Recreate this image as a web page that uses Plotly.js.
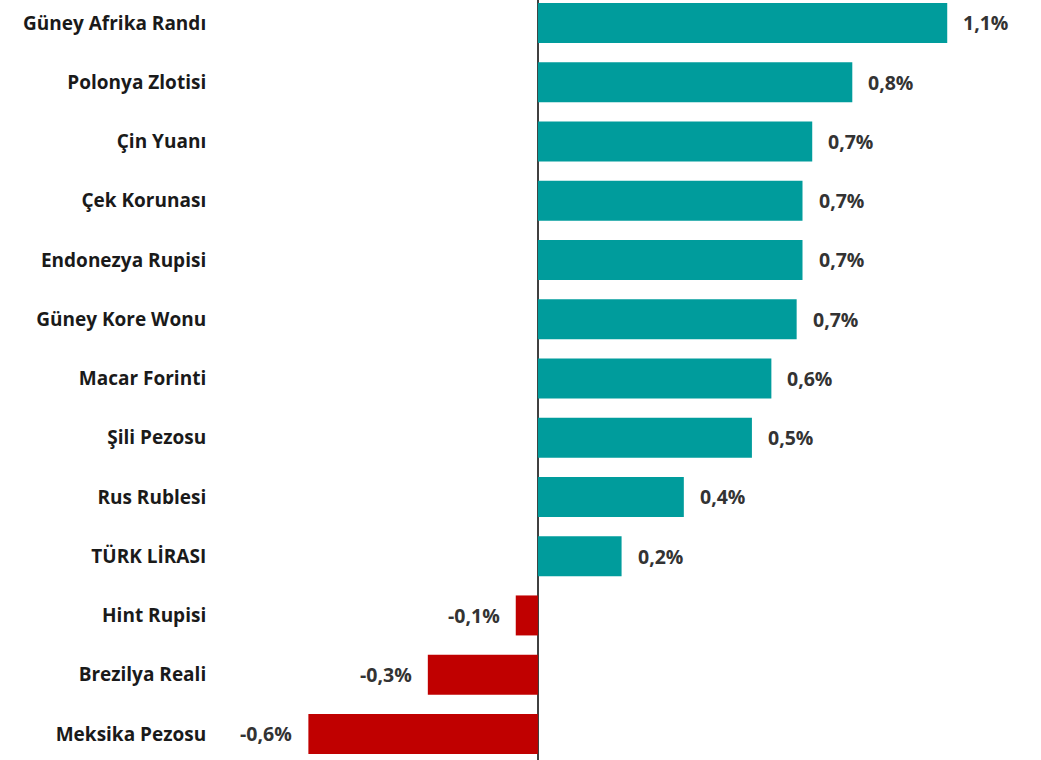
<!DOCTYPE html>
<html>
<head>
<meta charset="utf-8">
<script src="https://cdn.plot.ly/plotly-3.0.1.min.js"></script>
<style>html,body{margin:0;padding:0;background:#fff;}#chart{width:1041px;height:760px;}</style>
</head>
<body>
<div id="chart"></div>
<script>
const categories = ["Güney Afrika Randı","Polonya Zlotisi","Çin Yuanı","Çek Korunası","Endonezya Rupisi","Güney Kore Wonu","Macar Forinti","Şili Pezosu","Rus Rublesi","TÜRK LİRASI","Hint Rupisi","Brezilya Reali","Meksika Pezosu"];
const values = [1.052, 0.808, 0.705, 0.68, 0.68, 0.665, 0.60, 0.55, 0.375, 0.215, -0.057, -0.283, -0.59];
const labels = ["1,1%","0,8%","0,7%","0,7%","0,7%","0,7%","0,6%","0,5%","0,4%","0,2%","-0,1%","-0,3%","-0,6%"];
const posColor = "#009C9C";
const negColor = "#C00000";

const colors = values.map(v => v >= 0 ? posColor : negColor);

const trace = {
  type: "bar",
  orientation: "h",
  y: categories,
  x: values,
  marker: {color: colors, line: {width: 0}},
  hoverinfo: "none"
};

const FONT = "'Open Sans', Lato, sans-serif";

const annotations = values.map((v, i) => ({
  x: v, y: categories[i], xref: "x", yref: "y",
  text: labels[i], showarrow: false,
  xanchor: v >= 0 ? "left" : "right",
  xshift: v >= 0 ? 14 : -14,
  font: {family: FONT, size: 19.5, color: "#333333", weight: 700}
}));

const layout = {
  width: 1041, height: 760,
  margin: {l: 215, r: 0, t: 0, b: 0},
  paper_bgcolor: "#ffffff", plot_bgcolor: "#ffffff",
  showlegend: false,
  bargap: 0.325,
  xaxis: {
    range: [-0.830, 1.293],
    showgrid: false, showticklabels: false, ticks: "",
    zeroline: true, zerolinecolor: "#404040", zerolinewidth: 2,
    fixedrange: true
  },
  yaxis: {
    type: "category",
    range: [12.44, -0.388],
    showgrid: false, zeroline: false,
    ticks: "outside", ticklen: 4, tickcolor: "rgba(0,0,0,0)",
    tickfont: {family: FONT, size: 19, color: "#1a1a1a", weight: 700},
    fixedrange: true
  },
  annotations: annotations
};

Plotly.newPlot("chart", [trace], layout, {displayModeBar: false, staticPlot: true});
</script>
</body>
</html>
